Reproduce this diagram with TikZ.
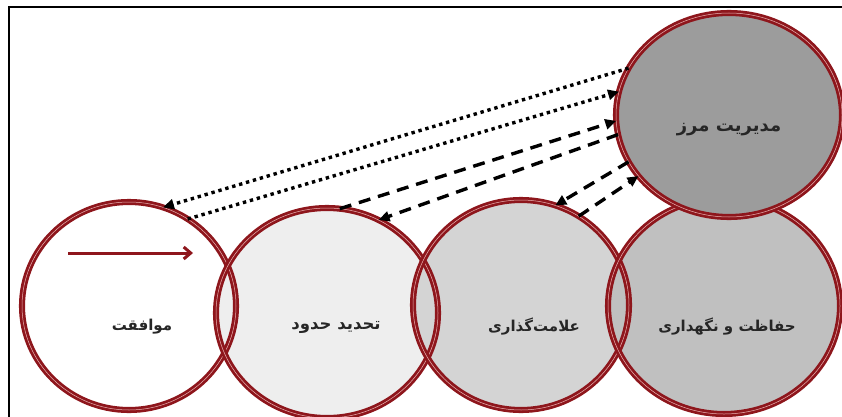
\documentclass[tikz,border=0pt]{standalone}
\usepackage{fontspec}
\usetikzlibrary{shapes.geometric,arrows.meta}
\newfontfamily\fa[Script=Arabic]{DejaVu Sans}
\TeXXeTstate=1
\definecolor{ringred}{RGB}{142,22,28}
\definecolor{ringlight}{RGB}{235,180,180}
\definecolor{fillA}{HTML}{FFFFFF}
\definecolor{fillB}{HTML}{EEEEEE}
\definecolor{fillC}{HTML}{D4D4D4}
\definecolor{fillD}{HTML}{C0C0C0}
\definecolor{fillE}{HTML}{9C9C9C}
\tikzset{
  bub/.style={ellipse, inner sep=0pt, outer sep=0pt},
  ring/.style={bub, draw=ringred, line width=2.8pt, double=ringlight, double distance=0.5pt},
  txt/.style={font=\fa\bfseries\fontsize{15}{17}\selectfont, text=black!85, inner sep=0pt},
  bigtxt/.style={font=\fa\bfseries\fontsize{18}{20}\selectfont, text=black!85, inner sep=0pt},
  tipk/.style={-{Triangle[length=11pt,width=10pt]}},
  dotline/.style={tipk, line width=3.4pt, dash pattern=on 3.4pt off 3.8pt, black},
  dashline/.style={tipk, line width=3.4pt, dash pattern=on 12pt off 8pt, black},
  redarrow/.style={draw=ringred, line width=3pt, -{Straight Barb[length=7pt,width=12pt,line width=3pt]}}
}
\begin{document}
\begin{tikzpicture}[x=1pt,y=1pt]
\useasboundingbox (0,0) rectangle (842,416);
\fill[white] (0,0) rectangle (842,416);
% frame
\draw[black, line width=1.6pt] (9,-10) -- (9,409) -- (860,409);
% fills
\node[bub, fill=fillA, minimum width=214pt, minimum height=208pt] (e1) at (129,110) {};
\node[bub, fill=fillB, minimum width=222pt, minimum height=210pt] (e2) at (327,103) {};
\node[bub, fill=fillC, minimum width=216pt, minimum height=210pt] (e3) at (521,111) {};
\node[bub, fill=fillD, minimum width=232pt, minimum height=216pt] (e4) at (724,110) {};
% outlines
\node[ring, minimum width=214pt, minimum height=208pt] (e1r) at (e1) {};
\node[ring, minimum width=222pt, minimum height=210pt] (e2r) at (e2) {};
\node[ring, minimum width=216pt, minimum height=210pt] (e3r) at (e3) {};
\node[ring, minimum width=232pt, minimum height=216pt] (e4r) at (e4) {};
% top ellipse
\node[ring, fill=fillE, minimum width=226pt, minimum height=204pt] (e5) at (729,301) {};
% texts
\node[txt] (t1) at (142,89) {\beginR موافقت\endR};
\node[txt, font=\fa\bfseries\fontsize{16.5}{18}\selectfont] (t2) at (336,89) {\beginR تحدید حدود\endR};
\node[txt] (t3) at (534,89) {\beginR علامت‌گذاری\endR};
\node[txt] (t4) at (727,89) {\beginR حفاظت و نگهداری\endR};
\node[bigtxt] (t5) at (729,286) {\beginR مدیریت مرز\endR};
% red arrow
\coordinate (ra1) at (68,163);
\coordinate (ra2) at (193,163);
\draw[redarrow] (ra1) -- (ra2);
% connectors
\draw[dotline] (e5.155) -- (e1.71);
\draw[dotline] (e1.56) -- (e5.168);
\draw[dashline] (e2.83) -- (e5.183);
\draw[dashline] (e5.190) -- (e2.61);
\draw[dashline] (e5.205) -- (e3.71);
\draw[dashline] (e3.57) -- (e5.214);
\end{tikzpicture}
\end{document}
